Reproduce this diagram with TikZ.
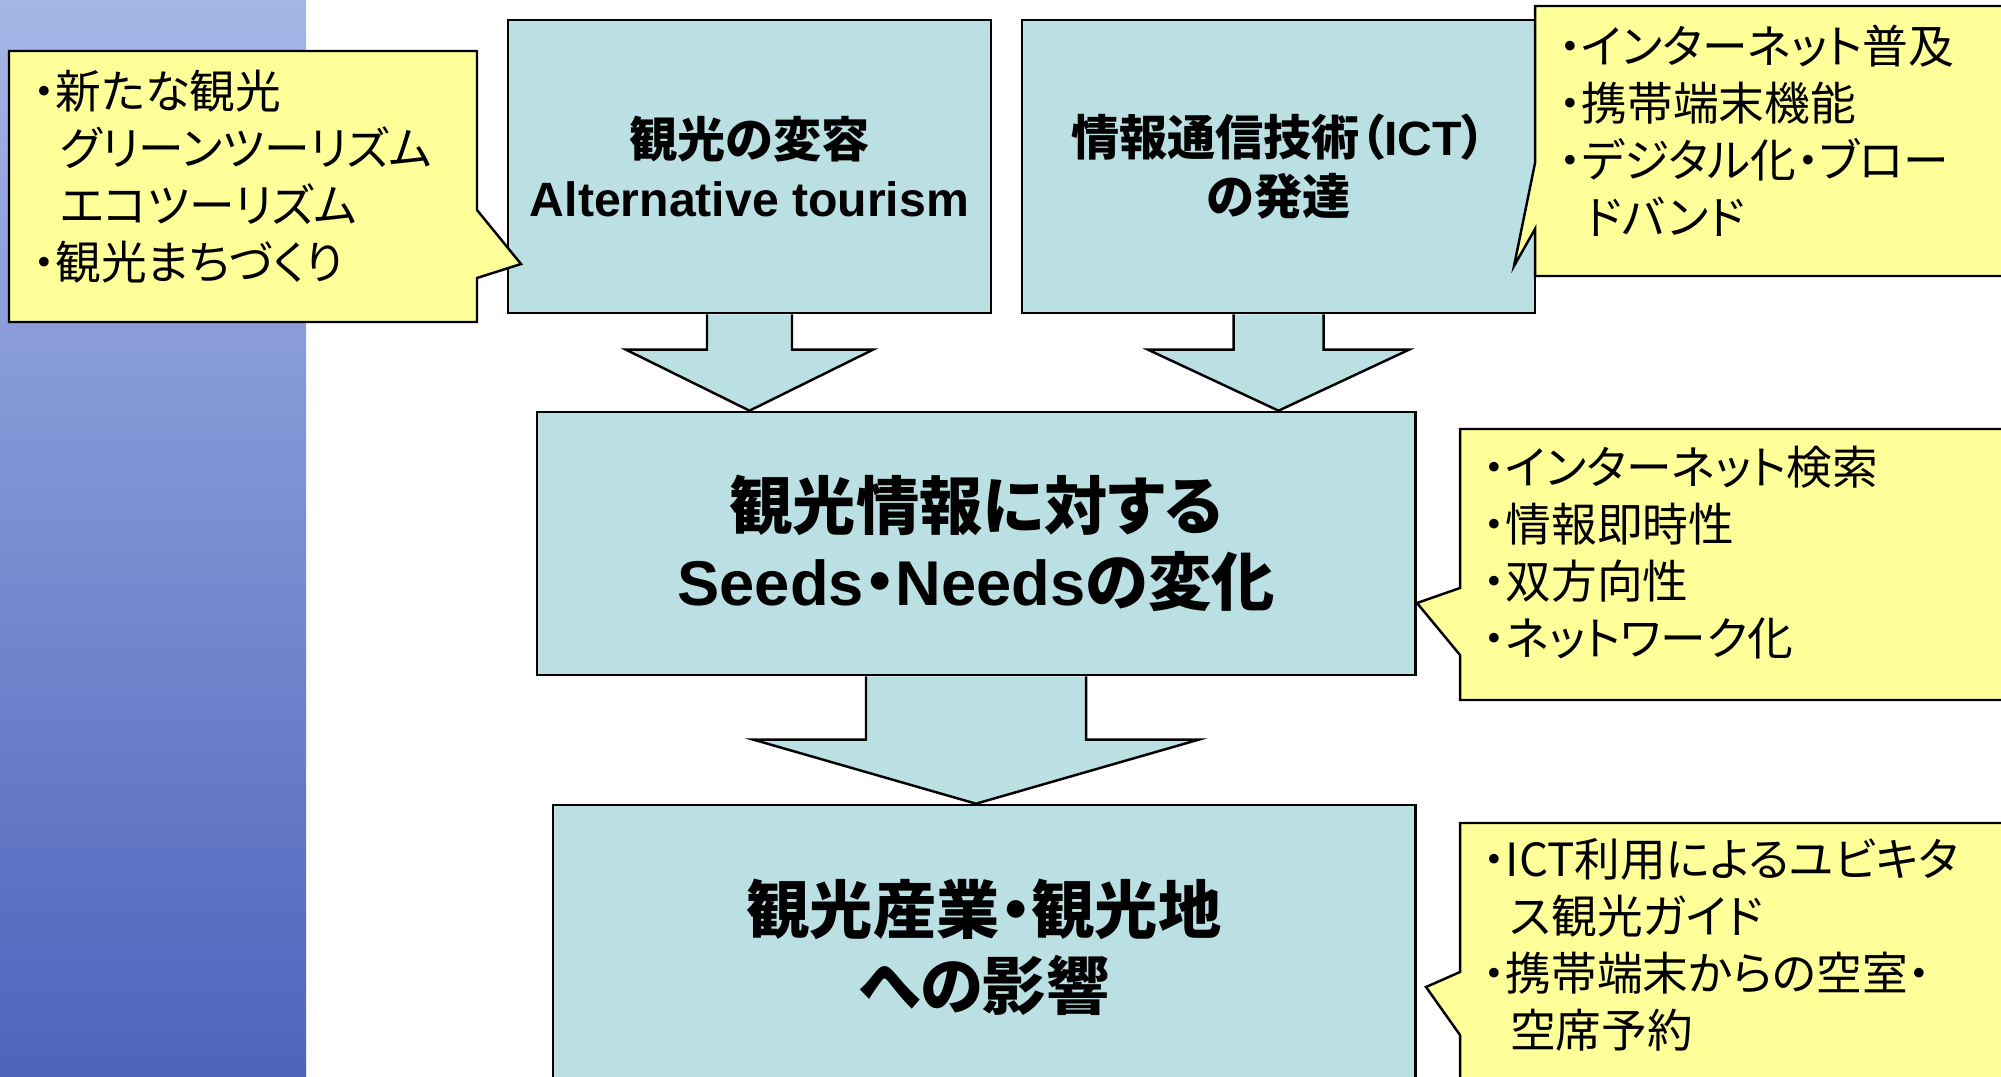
\documentclass[tikz,border=0pt]{standalone}
\usepackage{fontspec}
\usetikzlibrary{calc}
\setmainfont{Liberation Sans}
\newfontfamily\jp{Noto Sans CJK JP}[RawFeature=+palt]
\newfontfamily\lat{Liberation Sans}
\definecolor{boxblue}{RGB}{187,224,227}
\definecolor{noteyellow}{RGB}{255,255,153}
\definecolor{stripetop}{RGB}{165,182,230}
\definecolor{stripebot}{RGB}{76,100,188}
\newcommand\noteindent{\hspace*{0.6em}}

\tikzset{
  stage/.style={draw, fill=boxblue, line width=0.7pt, align=center, inner sep=0pt},
  note/.style={draw, fill=noteyellow, line width=0.7pt},
  notetext/.style={anchor=north west, align=left, inner sep=0pt, font=\jp\fontsize{13}{16.2}\selectfont},
  flow/.style={fill=boxblue, draw, line width=0.7pt}
}

% block arrow: from, to, shaft half width, head half width, head length
\newcommand\flowarrow[5]{%
  \path[flow] ($(#1.south)+(-#3,0)$) -- ($(#1.south |- #2.north)+(-#3,-#5)$)
    -- ($(#1.south |- #2.north)+(-#4,-#5)$) -- (#1.south |- #2.north)
    -- ($(#1.south |- #2.north)+(#4,-#5)$) -- ($(#1.south |- #2.north)+(#3,-#5)$)
    -- ($(#1.south)+(#3,0)$);
}

\begin{document}
\begin{tikzpicture}[x=0.01cm, y=-0.01cm]
\useasboundingbox (0,0) rectangle (2001,1076);
\clip (0,0) rectangle (2001,1076);

\shade[top color=stripetop, bottom color=stripebot] (0,0) rectangle (306,1076);

% the four stages
\node[stage, minimum width=4.83cm, minimum height=2.93cm,
  font=\jp\bfseries\fontsize{13.7}{17}\selectfont] (change) at (749.5,166.5)
  {観光の変容\\{\lat Alternative tourism}};
\node[stage, minimum width=5.13cm, minimum height=2.93cm,
  font=\jp\bfseries\fontsize{13.7}{17}\selectfont] (ict) at (1278.5,166.5)
  {情報通信技術（{\lat ICT}）\\の発達};
\node[stage, minimum width=8.78cm, minimum height=2.63cm,
  font=\jp\bfseries\fontsize{18}{21.6}\selectfont] (seeds) at (976,543.5)
  {観光情報に対する\\{\lat Seeds}・{\lat Needs}の変化};
\node[stage, minimum width=8.62cm, minimum height=2.85cm,
  font=\jp\bfseries\fontsize{18}{21.6}\selectfont] (impact) at (984,947.5)
  {観光産業・観光地\\への影響};

\flowarrow{change}{seeds}{42.5}{123.5}{61}
\flowarrow{ict}{seeds}{45}{130.5}{61}
\flowarrow{seeds}{impact}{110}{222.5}{64}

% callouts
\draw[note] (9,51) -- (477,51) -- (477,210) -- (521,264) -- (477,278) -- (477,322) -- (9,322) -- cycle;
\draw[note] (1535,6) -- (2020,6) -- (2020,276) -- (1535,276) -- (1535,229) -- (1514,266) -- (1535,163) -- cycle;
\draw[note] (1460,429) -- (2020,429) -- (2020,700) -- (1460,700) -- (1460,655) -- (1417,603) -- (1460,588) -- cycle;
\draw[note] (1460,823) -- (2020,823) -- (2020,1090) -- (1460,1090) -- (1460,1035) -- (1426,987) -- (1460,972) -- cycle;

\node[notetext] (noteleft) at (32,69)
  {・新たな観光\\\noteindent グリーンツーリズム\\\noteindent エコツーリズム\\・観光まちづくり};
\node[notetext] (notetop) at (1558,24)
  {・インターネット普及\\・携帯端末機能\\・デジタル化・ブロー\\\noteindent ドバンド};
\node[notetext] (notemid) at (1482,445)
  {・インターネット検索\\・情報即時性\\・双方向性\\・ネットワーク化};
\node[notetext] (notelow) at (1482,838)
  {・ICT利用によるユビキタ\\\noteindent ス観光ガイド\\・携帯端末からの空室・\\\noteindent 空席予約};
\end{tikzpicture}
\end{document}
